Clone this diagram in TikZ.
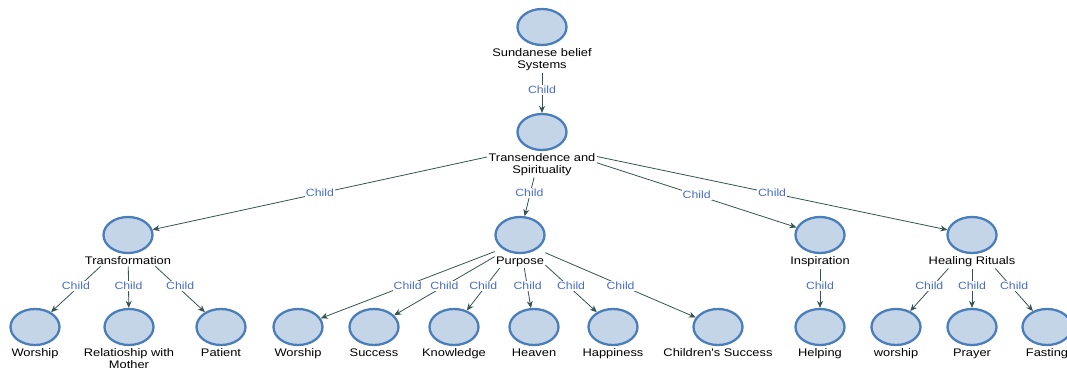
\documentclass[tikz,border=0pt]{standalone}
\usepackage{fontspec}
\setmainfont{Liberation Sans}
\newfontfamily\lblfont[FakeStretch=1.17]{Liberation Sans}
\usetikzlibrary{arrows.meta,shapes.geometric,fit}
\definecolor{bord}{RGB}{74,126,187}
\definecolor{fillc}{RGB}{197,213,232}
\definecolor{edgec}{RGB}{52,84,80}
\definecolor{chc}{RGB}{72,108,200}
\begin{document}
\begin{tikzpicture}[x=1pt,y=-1pt,
  circ/.style={ellipse, draw=bord, fill=fillc, line width=2.3pt, minimum width=49pt, minimum height=36pt, inner sep=0pt},
  lbl/.style={anchor=north, yshift=-1.5pt, align=center, font=\lblfont\fontsize{11}{12}\selectfont, inner sep=1pt, text=black},
  src/.style={fit=#1, inner sep=0pt},
  edge/.style={draw=edgec, line width=0.8pt, -{Stealth[length=7pt,width=6pt]}},
  ch/.style={fill=white, text=chc, font=\lblfont\fontsize{10.5}{12}\selectfont, inner sep=1pt}]
\clip (0,0) rectangle (1067,367);
% level 0-1
\node[circ] (r) at (542,27) {};
\node[lbl] (rl) at (r.south) {Sundanese belief\\Systems};
\node[circ] (t) at (542,132) {};
\node[lbl] (tl) at (t.south) {Transendence and\\Spirituality};
% level 2
\node[circ] (tf) at (128,235) {};
\node[lbl] (tfl) at (tf.south) {Transformation};
\node[circ] (p) at (520,235) {};
\node[lbl] (pl) at (p.south) {Purpose};
\node[circ] (i) at (820,235) {};
\node[lbl] (il) at (i.south) {Inspiration};
\node[circ] (h) at (972,235) {};
\node[lbl] (hl) at (h.south) {Healing Rituals};
% source boxes (ellipse top to label bottom)
\node[src={(r.north)(rl)}] (rs) {};
\node[src={(t.north)(tl)}] (ts) {};
\node[src={(tf.north)(tfl)}] (tfs) {};
\node[src={(p.north)(pl)}] (ps) {};
\node[src={(i.north)(il)}] (is) {};
\node[src={(h.north)(hl)}] (hs) {};
% level 3
\node[circ] (a1) at (35,327) {};
\node[lbl] at (a1.south) {Worship};
\node[circ] (a2) at (129,327) {};
\node[lbl] at (a2.south) {Relatioship with\\Mother};
\node[circ] (a3) at (221,327) {};
\node[lbl] at (a3.south) {Patient};
\node[circ] (b1) at (298,327) {};
\node[lbl] at (b1.south) {Worship};
\node[circ] (b2) at (374,327) {};
\node[lbl] at (b2.south) {Success};
\node[circ] (b3) at (454,327) {};
\node[lbl] at (b3.south) {Knowledge};
\node[circ] (b4) at (534,327) {};
\node[lbl] at (b4.south) {Heaven};
\node[circ] (b5) at (613,327) {};
\node[lbl] at (b5.south) {Happiness};
\node[circ] (b6) at (718,327) {};
\node[lbl] at (b6.south) {Children's Success};
\node[circ] (c1) at (820,327) {};
\node[lbl] at (c1.south) {Helping};
\node[circ] (d1) at (896,327) {};
\node[lbl] at (d1.south) {worship};
\node[circ] (d2) at (972,327) {};
\node[lbl] at (d2.south) {Prayer};
\node[circ] (d3) at (1047,327) {};
\node[lbl] at (d3.south) {Fasting};
% edges
\draw[edge] (rs) -- (t);
\node[ch] at (542,90) {Child};
\foreach \c/\yy in {tf/193,p/193,i/195,h/193}{
  \draw[edge] (ts) -- coordinate[midway] (m) (\c);
  \node[ch] at (m |- 0,\yy) {Child};
}
\foreach \c in {a1,a2,a3}{
  \draw[edge] (tfs) -- coordinate[midway] (m) (\c);
  \node[ch] at (m |- 0,286) {Child};
}
\foreach \c in {b1,b2,b3,b4,b5,b6}{
  \draw[edge] (ps) -- coordinate[midway] (m) (\c);
  \node[ch] at (m |- 0,286) {Child};
}
\draw[edge] (is) -- coordinate[midway] (m) (c1);
\node[ch] at (m |- 0,286) {Child};
\foreach \c in {d1,d2,d3}{
  \draw[edge] (hs) -- coordinate[midway] (m) (\c);
  \node[ch] at (m |- 0,286) {Child};
}
\end{tikzpicture}
\end{document}
